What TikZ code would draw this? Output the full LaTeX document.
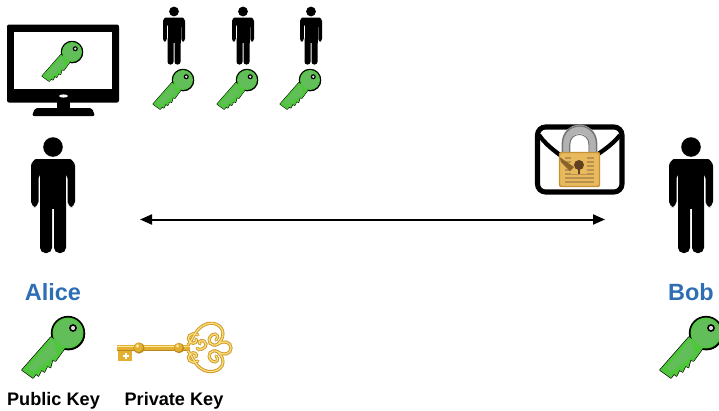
\documentclass[tikz,border=0pt]{standalone}
\usepackage{fontspec}
\usetikzlibrary{arrows.meta}
\setmainfont{Liberation Sans}
\definecolor{keygreen}{RGB}{98,190,88}
\definecolor{keyedge}{RGB}{78,200,58}
\definecolor{nameblue}{RGB}{46,110,180}
\definecolor{gold}{RGB}{228,176,50}
\definecolor{golddark}{RGB}{186,134,30}
\definecolor{goldlight}{RGB}{252,232,150}
\definecolor{lockbody}{RGB}{232,186,92}
\definecolor{lockedge}{RGB}{196,146,54}
\definecolor{lockline}{RGB}{172,124,50}
\tikzset{
  x=0.75pt,y=-0.75pt,
  keyshape/.style={line join=round},
  namelabel/.style={font=\fontsize{17.6}{20}\selectfont\bfseries,text=nameblue,inner sep=0pt},
  keylabel/.style={font=\fontsize{13.6}{16}\selectfont\bfseries,text=black,inner sep=0pt},
  pics/person/.style={code={
    \fill[black] (0,10) circle (9.8);
    \fill[black,rounded corners=#1] (-22,70) -- (-22,34) .. controls (-22,26) and (-18,22) .. (-12,22) -- (12,22) .. controls (18,22) and (22,26) .. (22,34) -- (22,70) -- (14.5,70) -- (14.5,36) -- (-14.5,36) -- (-14.5,70) -- cycle;
    \fill[black] (-13,26) rectangle (13,72);
    \fill[black,rounded corners=#1] (-13,60) -- (-13,116) -- (-1,116) -- (-1,60) -- cycle;
    \fill[black,rounded corners=#1] (1,60) -- (1,116) -- (13,116) -- (13,60) -- cycle;
  }},
  pics/pubkey/.style={code={
    \draw[black,fill=black,keyshape,line width=#1] (0,0) circle (16.5) (-17,4) -- (-46,37) -- (-35,45) -- (-32,41) -- (-29.5,43) -- (-26.5,37) -- (-23.5,39) -- (-20.5,33) -- (-17.5,34.5) -- (-15.5,27) -- (-12.5,28) -- (-3,15) -- cycle;
    \fill[black] (0.6,0.8) circle (16.5);
    \fill[keyedge] (0,0) circle (15.4);
    \fill[keyedge] (-17,4) -- (-46,37) -- (-35,45) -- (-32,41) -- (-29.5,43) -- (-26.5,37) -- (-23.5,39) -- (-20.5,33) -- (-17.5,34.5) -- (-15.5,27) -- (-12.5,28) -- (-3,15) -- cycle;
    \fill[keygreen] (0,0) circle (14);
    \fill[keygreen] (-15,6) -- (-40,35) -- (-35,39) -- (-11,21) -- cycle;
    \fill[black] (5,-5) circle (3.9);
    \fill[white!85!black] (5,-5) circle (2.1);
  }}
}
\begin{document}
\begin{tikzpicture}
\useasboundingbox (0,0) rectangle (719,411);
\clip (0,0) rectangle (719,411);

% monitor
\fill[black,rounded corners=1.5pt] (7,24.5) rectangle (119,102.5);
\fill[white] (14,32) rectangle (112,89);
\fill[black] (57,102) rectangle (70,109);
\fill[black,rounded corners=1.5pt] (35,108) -- (92,108) -- (95,116) -- (32,116) -- cycle;
\fill[white] (63.5,96) ellipse (4.5 and 1.6);
\pic[scale=.65] at (72,52) {pubkey=0.8pt};

% small people and their keys
\pic[scale=.5] at (174,6.5) {person=2pt};
\pic[scale=.5] at (243,6.5) {person=2pt};
\pic[scale=.5] at (311,6.5) {person=2pt};
\pic[scale=.65] at (183,80) {pubkey=0.8pt};
\pic[scale=.65] at (247,80) {pubkey=0.8pt};
\pic[scale=.65] at (310,80) {pubkey=0.8pt};

% Alice and Bob
\pic at (53,137) {person=4pt};
\pic at (691,137) {person=4pt};
\node[namelabel] (alice) at (53,292) {Alice};
\node[namelabel] (bob) at (691,292) {Bob};
\pic at (68,333) {pubkey=1pt};
\pic at (706,333) {pubkey=1pt};
\node[keylabel] (pub) at (53.5,401) {Public Key};
\node[keylabel] (priv) at (174,401) {Private Key};

% arrow
\coordinate (left) at (140,219.5);
\coordinate (right) at (605,219.5);
\draw[black,line width=1.5pt,{Stealth[length=9pt,width=7.5pt,inset=0pt]}-{Stealth[length=9pt,width=7.5pt,inset=0pt]}] (left) -- (right);

% envelope
\draw[black,line width=3.8pt,fill=white,rounded corners=6pt] (537.5,127) rectangle (622,192);
\draw[black,line width=3.2pt] (539,135) .. controls (548,148) and (562,156) .. (578,168) .. controls (594,156) and (610,148) .. (620,135);
% shackle
\draw[black!30,line width=6.6pt] (566,160) -- (566,144) .. controls (566,124) and (593,124) .. (593,144) -- (593,160);
\draw[black!55,line width=1pt] (562.5,160) -- (562.5,144) .. controls (562.5,120) and (596.5,120) .. (596.5,144) -- (596.5,160);
\draw[black!55,line width=.7pt] (569.7,160) -- (569.7,145) .. controls (569.7,131) and (589,131) .. (589,145) -- (589,160);
% lock
\draw[lockedge,fill=lockbody,line width=1.1pt,rounded corners=1.5pt] (559.5,152.5) rectangle (599.5,186.5);
\foreach \yy in {158,162,166,170,174,178,182}
  \draw[lockline!85,line width=1pt] (565,\yy) -- (594,\yy);
\fill[lockbody] (571,156.5) rectangle (587,174);
\fill[lockline!80!black] (559.5,157) -- (574,167) -- (570,171) -- (561,162) -- cycle;
\fill[black!50!brown] (579,165) circle (5);
\fill[black!50!brown] (577.6,166) rectangle (580.4,174);

% gold private key
\fill[gold] (117,345) rectangle (190,351);
\fill[goldlight] (117,345.5) rectangle (190,347);
\fill[golddark] (117,350.3) rectangle (190,351.3);
\fill[gold] (118,351) rectangle (132,361);
\fill[white] (122.5,354.5) rectangle (128.5,357);
\fill[white] (124.5,352.5) rectangle (126.5,359);
\fill[golddark] (139,348) circle (5.6);
\fill[gold] (138.5,347.5) circle (4.6);
\fill[goldlight] (137.5,346) circle (1.8);
\fill[golddark] (179,348) circle (5.2);
\fill[gold] (178.5,347.5) circle (4.3);
\fill[goldlight] (177.5,346) circle (1.6);
\begin{scope}[line cap=round]
  \foreach \c/\w in {golddark/2.3pt,gold/1.7pt,goldlight/.6pt}{
    \draw[\c,line width=\w] (188,345) .. controls (193,340) and (195,327) .. (208,323.5) .. controls (222,321) and (228,335) .. (218,344) .. controls (212,348) and (205,341) .. (212,335) .. controls (216,332) and (220,337) .. (216,340);
    \draw[\c,line width=\w] (188,351) .. controls (193,356) and (195,369) .. (208,371.5) .. controls (222,373) and (228,361) .. (218,352) .. controls (212,348) and (205,355) .. (212,361) .. controls (216,364) and (220,359) .. (216,356);
    \draw[\c,line width=\w] (198,335) .. controls (190,331) and (186,338) .. (190,342) .. controls (194,345) and (198,342) .. (196,339);
    \draw[\c,line width=\w] (198,361) .. controls (190,365) and (186,358) .. (190,354) .. controls (194,351) and (198,354) .. (196,357);
    \draw[\c,line width=\w] (218,344) .. controls (224,340) and (231,342) .. (231,348) .. controls (231,354) and (224,356) .. (218,352);
    \draw[\c,line width=\w] (200,344) .. controls (196,341) and (205,338) .. (206,344) .. controls (207,348) and (198,352) .. (197,348);
  }
\end{scope}
\end{tikzpicture}
\end{document}
